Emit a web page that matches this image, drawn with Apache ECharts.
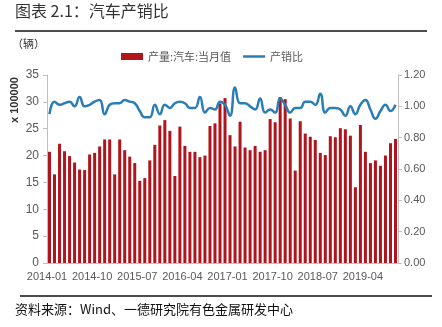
<!DOCTYPE html>
<html>
<head>
<meta charset="utf-8">
<script src="https://cdn.jsdelivr.net/npm/echarts@6/dist/echarts.min.js"></script>
<style>
html,body{margin:0;padding:0;background:#fff;}
#c{width:442px;height:327px;}
</style>
</head>
<body>
<div id="c"></div>
<script>
// categories: monthly 2014-01 .. 2019-10
var startYear = 2014, monthCount = 70;
var categories = [];
for (var i = 0; i < monthCount; i++) {
  var y = startYear + Math.floor(i / 12), m = (i % 12) + 1;
  categories.push(y + '-' + (m < 10 ? '0' + m : m));
}
// 产量:汽车:当月值 (x 100000 辆)
var production = [
  20.7,16.5,22.2,20.8,19.9,18.7,17.4,17.3,20.2,20.5,21.7,23.0,
  23.0,16.5,23.0,21.0,19.8,18.6,15.3,15.8,19.1,22.0,25.6,26.6,
  24.6,16.2,25.4,21.8,20.7,20.7,19.7,20.0,25.5,26.0,29.7,30.7,
  23.8,21.7,26.3,21.5,21.0,21.8,20.7,21.0,26.8,26.2,30.9,30.5,
  26.9,17.2,26.4,24.1,23.5,22.9,20.5,20.1,23.6,23.4,25.1,24.9,
  23.7,14.1,25.7,20.7,18.6,19.1,18.1,20.0,22.3,23.1
];
// 产销比
var ratio = [
  0.95,1.03,1.01,1.02,1.03,1.00,1.06,1.00,1.01,1.03,1.04,0.95,
  1.01,1.02,1.02,1.04,1.03,1.02,0.97,0.93,0.93,1.01,0.95,1.01,
  0.99,1.02,1.03,1.02,0.99,0.99,1.06,0.96,0.99,0.98,1.03,1.01,
  0.94,1.12,1.02,1.02,1.00,0.98,1.05,0.96,0.98,0.96,1.05,1.01,
  0.96,0.99,0.99,1.03,1.03,1.01,1.08,0.96,0.99,0.99,0.98,0.94,
  1.00,0.95,1.01,1.04,0.98,0.92,0.97,1.01,0.97,1.01
];
var leftTicks = {min: 0, max: 35, interval: 5};
var rightTicks = {min: 0, max: 1.2, interval: 0.2};

var FONT = '"Noto Sans CJK SC", "Liberation Sans", sans-serif';
var chart = echarts.init(document.getElementById('c'), null, {renderer: 'canvas'});
chart.setOption({
  animation: false,
  backgroundColor: '#fff',
  textStyle: {fontFamily: FONT},
  graphic: [
    {type: 'text', left: 15, top: 3, style: {text: '图表 2.1：汽车产销比', font: '16px ' + FONT, fill: '#333'}},
    {type: 'line', shape: {x1: 15, y1: 31, x2: 427, y2: 31}, style: {stroke: '#111', lineWidth: 1.5}},
    {type: 'text', left: 12, top: 38, style: {text: '（辆）', font: '11px ' + FONT, fill: '#333'}},
    {type: 'text', x: 15, y: 100, rotation: Math.PI / 2, style: {text: 'x 100000', font: 'bold 11px "Liberation Sans", sans-serif', fill: '#333', align: 'center', verticalAlign: 'middle'}},
    {type: 'line', shape: {x1: 20, y1: 296, x2: 432, y2: 296}, style: {stroke: '#111', lineWidth: 1.5}},
    {type: 'text', left: 15, top: 303, style: {text: '资料来源：Wind、一德研究院有色金属研发中心', font: '13px ' + FONT, fill: '#111'}}
  ],
  legend: {
    top: 46, left: 116,
    itemGap: 12, itemWidth: 22, itemHeight: 7,
    textStyle: {fontSize: 11, color: '#595959', fontFamily: FONT},
    data: [
      {name: '产量:汽车:当月值', icon: 'rect'},
      {name: '产销比', icon: 'path://M0,0 L0.01,0 M0,2.3 L22,2.3 L22,4.7 L0,4.7 Z M22,7 L21.99,7'}
    ]
  },
  grid: {left: 47, right: 44, top: 75, bottom: 64, containLabel: false},
  xAxis: {
    type: 'category',
    data: categories,
    boundaryGap: true,
    axisLine: {lineStyle: {color: '#bfbfbf'}},
    axisTick: {interval: 8, length: 4, lineStyle: {color: '#bfbfbf'}},
    axisLabel: {interval: 8, fontSize: 11, color: '#595959', margin: 8, padding: [0, 5, 0, 0], fontFamily: '"Liberation Sans", sans-serif'}
  },
  yAxis: [
    {
      type: 'value', min: leftTicks.min, max: leftTicks.max, interval: leftTicks.interval,
      splitLine: {show: false},
      axisLine: {show: true, lineStyle: {color: '#bfbfbf'}},
      axisTick: {show: true, length: 4, lineStyle: {color: '#bfbfbf'}},
      axisLabel: {fontSize: 12, color: '#595959', margin: 8, fontFamily: '"Liberation Sans", sans-serif'}
    },
    {
      type: 'value', min: rightTicks.min, max: rightTicks.max, interval: rightTicks.interval,
      position: 'right',
      splitLine: {show: false},
      axisLine: {show: true, lineStyle: {color: '#bfbfbf'}},
      axisTick: {show: true, length: 4, lineStyle: {color: '#bfbfbf'}},
      axisLabel: {fontSize: 11, color: '#595959', margin: 6, fontFamily: '"Liberation Sans", sans-serif',
        formatter: function (v) { return v.toFixed(2); }}
    }
  ],
  series: [
    {
      name: '产量:汽车:当月值', type: 'bar', yAxisIndex: 0,
      data: production, barWidth: '60%',
      itemStyle: {color: '#b0141c'}
    },
    {
      name: '产销比', type: 'line', yAxisIndex: 1,
      data: ratio, smooth: 0.5, symbol: 'none',
      lineStyle: {color: '#2a7db5', width: 2.5},
      itemStyle: {color: '#2a7db5'}
    }
  ]
});
</script>
</body>
</html>
